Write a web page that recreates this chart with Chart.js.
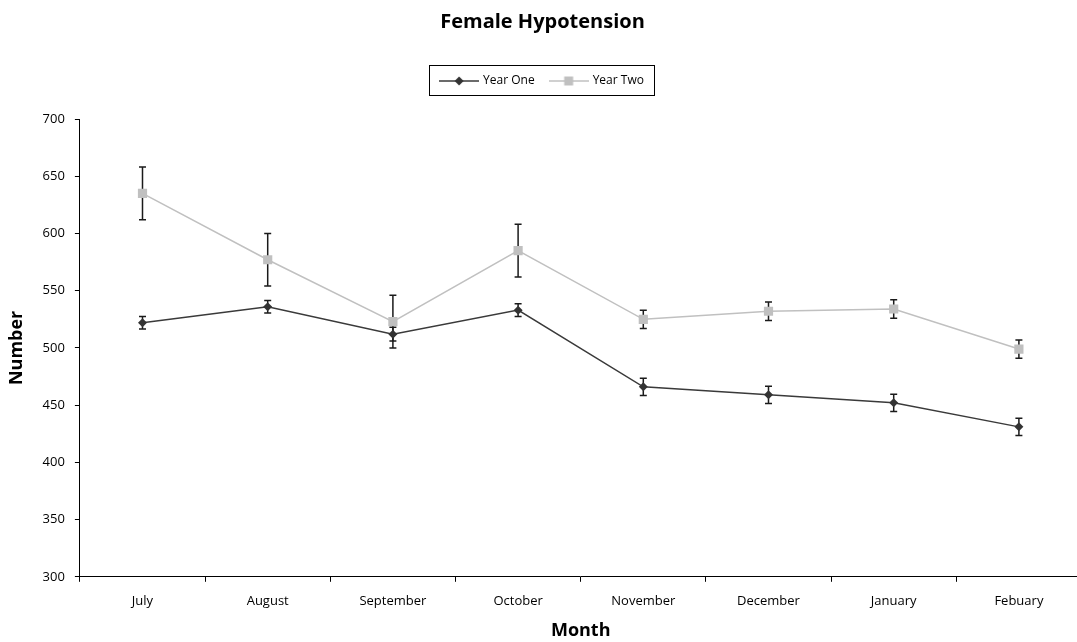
<!DOCTYPE html>
<html>
<head>
<meta charset="utf-8">
<script src="https://cdn.jsdelivr.net/npm/chart.js@4.4.1/dist/chart.umd.min.js"></script>
<style>
    body { margin: 0; background: #fff; }
    #wrap { width: 1077px; height: 642px; overflow: hidden; }
    #inner { width: 1088px; height: 642px; position: relative; }
</style>
</head>
<body>
<div id="wrap"><div id="inner"><canvas id="hypoChart"></canvas></div></div>
<script>
// data
var months = ['July', 'August', 'September', 'October', 'November', 'December', 'January', 'Febuary'];
var yearOne = [522, 536, 512, 533, 466, 459, 452, 431];
var yearOneErr = [5.5, 5.5, 6, 5.5, 7.5, 7.5, 7.5, 7.5];
var yearTwo = [635, 577, 523, 585, 525, 532, 534, 499];
var yearTwoErr = [23, 23, 23, 23, 8, 8, 8, 8];
var yTicks = [300, 350, 400, 450, 500, 550, 600, 650, 700];

var errors = [yearOneErr, yearTwoErr];

// little legend pictures: line with the marker in the middle
function legendIcon(lineColor, fill, shape) {
    var c = document.createElement('canvas');
    c.width = 40;
    c.height = 12;
    var g = c.getContext('2d');
    g.strokeStyle = lineColor;
    g.lineWidth = 1.5;
    g.beginPath();
    g.moveTo(0, 6);
    g.lineTo(40, 6);
    g.stroke();
    g.fillStyle = fill;
    g.beginPath();
    if (shape === 'diamond') {
        g.moveTo(20, 1.5); g.lineTo(24.5, 6); g.lineTo(20, 10.5); g.lineTo(15.5, 6);
    } else {
        g.rect(15.5, 1.5, 9, 9);
    }
    g.closePath();
    g.fill();
    return c;
}
var icons = [legendIcon('#3a3a3a', '#333333', 'diamond'), legendIcon('#c0c0c0', '#c0c0c0', 'square')];

var errorBars = {
    id: 'errorBars',
    beforeDatasetsDraw: function (chart) {
        var ctx = chart.ctx;
        var y = chart.scales.y;
        ctx.save();
        ctx.strokeStyle = '#1a1a1a';
        ctx.lineWidth = 1.5;
        chart.data.datasets.forEach(function (ds, di) {
            var meta = chart.getDatasetMeta(di);
            meta.data.forEach(function (pt, i) {
                var v = ds.data[i];
                var e = errors[di][i];
                var top = y.getPixelForValue(v + e);
                var bot = y.getPixelForValue(v - e);
                ctx.beginPath();
                ctx.moveTo(pt.x, top); ctx.lineTo(pt.x, bot);
                ctx.moveTo(pt.x - 3.5, top); ctx.lineTo(pt.x + 3.5, top);
                ctx.moveTo(pt.x - 3.5, bot); ctx.lineTo(pt.x + 3.5, bot);
                ctx.stroke();
            });
        });
        ctx.restore();
    }
};

var legendBox = {
    id: 'legendBox',
    afterInit: function (chart) {
        var leg = chart.legend;
        var fit = leg.fit;
        leg.fit = function () {
            fit.call(this);
            this.height += 22;
        };
    },
    afterDraw: function (chart) {
        var hb = chart.legend.legendHitBoxes;
        if (!hb || !hb.length) return;
        var first = hb[0], last = hb[hb.length - 1];
        var ctx = chart.ctx;
        ctx.save();
        ctx.strokeStyle = '#000';
        ctx.lineWidth = 1;
        var l = Math.round(first.left - 12) + 0.5;
        var r = Math.round(last.left + last.width + 10) + 0.5;
        var t = Math.round(first.top - 10) + 0.5;
        var b = Math.round(first.top + first.height + 8) + 0.5;
        ctx.strokeRect(l, t, r - l, b - t);
        ctx.restore();
    }
};

var ctx = document.getElementById('hypoChart').getContext('2d');
var hypoChart = new Chart(ctx, {
    type: 'line',
    data: {
        labels: months,
        datasets: [
            {
                label: 'Year One',
                data: yearOne,
                borderColor: '#3a3a3a',
                borderWidth: 1.5,
                pointStyle: 'rectRot',
                pointRadius: 4.5,
                pointBackgroundColor: '#333333',
                pointBorderColor: '#333333',
                pointBorderWidth: 0,
                tension: 0
            },
            {
                label: 'Year Two',
                data: yearTwo,
                borderColor: '#c0c0c0',
                borderWidth: 1.5,
                pointStyle: 'rect',
                pointRadius: 6.5,
                pointBackgroundColor: '#c0c0c0',
                pointBorderColor: '#c0c0c0',
                pointBorderWidth: 0,
                tension: 0
            }
        ]
    },
    options: {
        responsive: true,
        maintainAspectRatio: false,
        animation: false,
        layout: { padding: { left: 0, right: 3, top: 0, bottom: 0 } },
        plugins: {
            title: {
                display: true,
                text: 'Female Hypotension',
                color: '#000',
                font: { family: 'Open Sans', size: 20, weight: 'bold' },
                padding: { top: 10, bottom: 25 }
            },
            legend: {
                display: true,
                labels: {
                    color: '#000',
                    font: { family: 'Open Sans', size: 12 },
                    usePointStyle: true,
                    pointStyleWidth: 36,
                    padding: 16,
                    generateLabels: function (chart) {
                        var items = Chart.defaults.plugins.legend.labels.generateLabels(chart);
                        items.forEach(function (it, i) { it.pointStyle = icons[i]; });
                        return items;
                    }
                }
            },
            tooltip: { enabled: false }
        },
        scales: {
            x: {
                offset: true,
                grid: {
                    offset: true,
                    drawOnChartArea: false,
                    drawTicks: true,
                    tickLength: 5,
                    color: '#000'
                },
                border: { color: '#000', width: 1 },
                ticks: {
                    color: '#000',
                    padding: 12,
                    maxRotation: 0,
                    font: { family: 'Open Sans', size: 13 }
                },
                title: {
                    display: true,
                    text: 'Month',
                    color: '#000',
                    font: { family: 'Open Sans', size: 18, weight: 'bold' },
                    padding: { top: -1, bottom: 0 }
                }
            },
            y: {
                min: 300,
                max: 700,
                afterBuildTicks: function (scale) {
                    scale.ticks = yTicks.map(function (v) { return { value: v }; });
                },
                grid: {
                    drawOnChartArea: false,
                    drawTicks: true,
                    tickLength: 5,
                    color: '#000'
                },
                border: { color: '#000', width: 1 },
                ticks: {
                    color: '#000',
                    padding: 10,
                    font: { family: 'Open Sans', size: 13 }
                },
                title: {
                    display: true,
                    text: 'Number',
                    color: '#000',
                    font: { family: 'Open Sans', size: 18, weight: 'bold' },
                    padding: { top: 6, bottom: 5 }
                }
            }
        }
    },
    plugins: [errorBars, legendBox]
});
</script>
</body>
</html>
